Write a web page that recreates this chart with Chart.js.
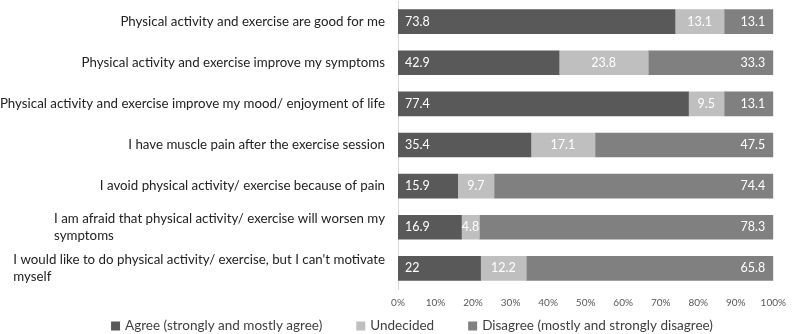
<!DOCTYPE html>
<html>
<head>
<meta charset="utf-8">
<script src="https://cdn.jsdelivr.net/npm/chart.js@4.4.1/dist/chart.umd.min.js"></script>
<style>
  html, body { margin: 0; padding: 0; background: #fff; }
  #wrap { width: 794px; height: 334px; }
</style>
</head>
<body>
<div id="wrap"><canvas id="bars"></canvas></div>
<script>
const statements = [
  ['Physical activity and exercise are good for me'],
  ['Physical activity and exercise improve my symptoms'],
  ['Physical activity and exercise improve my mood/ enjoyment of life'],
  ['I have muscle pain after the exercise session'],
  ['I avoid physical activity/ exercise because of pain'],
  ['I am afraid that physical activity/ exercise will worsen my', 'symptoms'],
  ['I would like to do physical activity/ exercise, but I can\'t motivate', 'myself']
];
const agree = [73.8, 42.9, 77.4, 35.4, 15.9, 16.9, 22];
const undecided = [13.1, 23.8, 9.5, 17.1, 9.7, 4.8, 12.2];
const disagree = [13.1, 33.3, 13.1, 47.5, 74.4, 78.3, 65.8];
const seriesNames = [
  'Agree (strongly and mostly agree)',
  'Undecided',
  'Disagree (mostly and strongly disagree)'
];
const seriesColors = ['#595959', '#bfbfbf', '#808080'];

const fontFam = 'Lato, "Open Sans", sans-serif';

// labels inside the bars: first series at start, middle centered, last at end
const barText = {
  id: 'barText',
  afterDatasetsDraw(chart) {
    const c = chart.ctx;
    c.save();
    c.font = '12.5px ' + fontFam;
    c.fillStyle = '#ffffff';
    c.textBaseline = 'middle';
    chart.data.datasets.forEach((ds, di) => {
      const meta = chart.getDatasetMeta(di);
      meta.data.forEach((bar, i) => {
        const txt = String(ds.data[i]);
        const left = Math.min(bar.x, bar.base), right = Math.max(bar.x, bar.base);
        if (di === 0) { c.textAlign = 'left'; c.fillText(txt, left + 7, bar.y); }
        else if (di === 1) { c.textAlign = 'center'; c.fillText(txt, (left + right) / 2, bar.y); }
        else { c.textAlign = 'right'; c.fillText(txt, right - 8, bar.y); }
      });
    });
    c.restore();
  }
};

// category labels (block right-aligned, lines left-aligned) and bottom legend
const sideText = {
  id: 'sideText',
  afterDraw(chart) {
    const c = chart.ctx;
    const y = chart.scales.y;
    c.save();
    c.font = '13.3px ' + fontFam;
    c.fillStyle = '#222222';
    c.textBaseline = 'middle';
    c.textAlign = 'left';
    const rightEdge = chart.chartArea.left - 13;
    const lh = 17;
    statements.forEach((lines, i) => {
      const w = Math.max(...lines.map(l => c.measureText(l).width));
      const cy = y.getPixelForValue(i);
      const y0 = cy - (lines.length - 1) * lh / 2;
      lines.forEach((l, k) => c.fillText(l, rightEdge - w, y0 + k * lh));
    });

    // legend
    c.font = '13.5px ' + fontFam;
    const gap = 34, box = 9;
    const widths = seriesNames.map(n => box + 5 + c.measureText(n).width);
    const total = widths.reduce((a, b) => a + b, 0) + gap * (widths.length - 1);
    let x = 412 - total / 2;
    const ly = 326;
    seriesNames.forEach((n, i) => {
      c.fillStyle = seriesColors[i];
      c.fillRect(x, ly - box / 2, box, box);
      c.fillStyle = '#404040';
      c.fillText(n, x + box + 5, ly);
      x += widths[i] + gap;
    });
    c.restore();
  }
};

new Chart(document.getElementById('bars'), {
  type: 'bar',
  data: {
    labels: statements,
    datasets: seriesNames.map((n, i) => ({
      label: n,
      data: [agree, undecided, disagree][i],
      backgroundColor: seriesColors[i]
    }))
  },
  options: {
    indexAxis: 'y',
    responsive: true,
    maintainAspectRatio: false,
    animation: false,
    barThickness: 24,
    layout: { padding: { top: 1, right: 12, left: 0, bottom: 17 } },
    scales: {
      x: {
        stacked: true,
        min: 0, max: 100,
        grid: { display: false, drawTicks: false },
        border: { display: false },
        ticks: {
          stepSize: 10,
          padding: 8,
          callback: v => v + '%',
          font: { size: 10, family: fontFam },
          color: '#595959',
          maxRotation: 0
        }
      },
      y: {
        stacked: true,
        grid: { display: false },
        border: { display: true, color: '#d9d9d9' },
        ticks: { display: false },
        afterFit(s) { s.width = 398; }
      }
    },
    plugins: {
      legend: { display: false },
      tooltip: { enabled: false }
    }
  },
  plugins: [barText, sideText]
});
</script>
</body>
</html>
